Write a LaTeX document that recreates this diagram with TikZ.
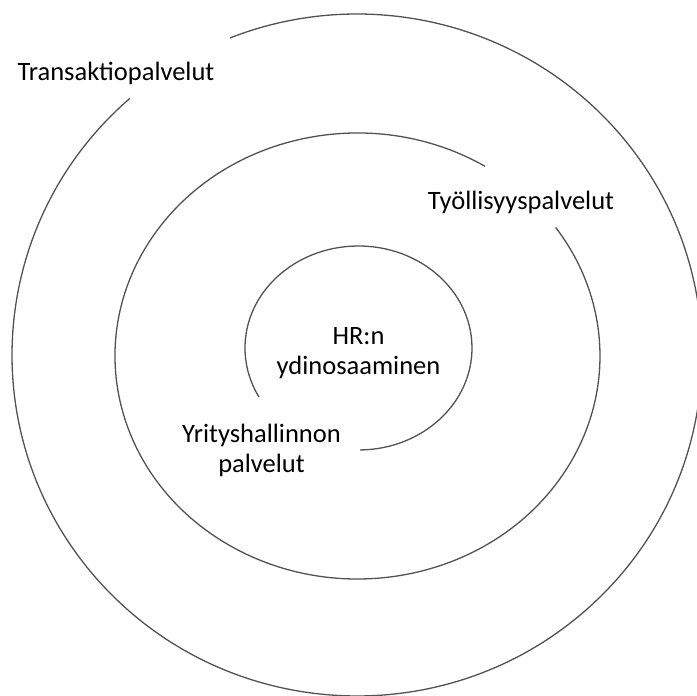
\documentclass[tikz,border=0pt]{standalone}
\usepackage{fontspec}
\setmainfont{Carlito}
\begin{document}
\begin{tikzpicture}[x=1pt,y=1pt,
  ring/.style={draw=black!68, line width=1.3pt},
  lbl/.style={inner sep=0pt, anchor=base, align=center, font=\fontsize{26.5}{30}\selectfont, text=black}]
\useasboundingbox (0,0) rectangle (697,696);
\clip (0,0) rectangle (697,696);
\coordinate (oc) at (357,341);
\coordinate (mc) at (357.5,340);
\coordinate (ic) at (358.5,348);
% outer ring
\draw[ring] ([shift={(131.2:345pt and 341pt)}]oc) arc[start angle=131.2, end angle=471.6, x radius=345pt, y radius=341pt];
% middle ring
\draw[ring] ([shift={(58.3:242.5pt and 223pt)}]mc) arc[start angle=58.3, end angle=395.2, x radius=242.5pt, y radius=223pt];
% inner ring
\draw[ring] ([shift={(270.8:113.5pt and 102pt)}]ic) arc[start angle=270.8, end angle=568.7, x radius=113.5pt, y radius=102pt];
% labels (multi-line nodes: base = baseline of last line)
\node[lbl] (trans) at (116,615.5) {Transaktiopalvelut};
\node[lbl] (tyol) at (521,486.5) {Työllisyyspalvelut};
\node[lbl] (hr) at (358.5,321) {HR:n\\ydinosaaminen};
\node[lbl] (yrit) at (261.5,223) {Yrityshallinnon\\palvelut};
\end{tikzpicture}
\end{document}
